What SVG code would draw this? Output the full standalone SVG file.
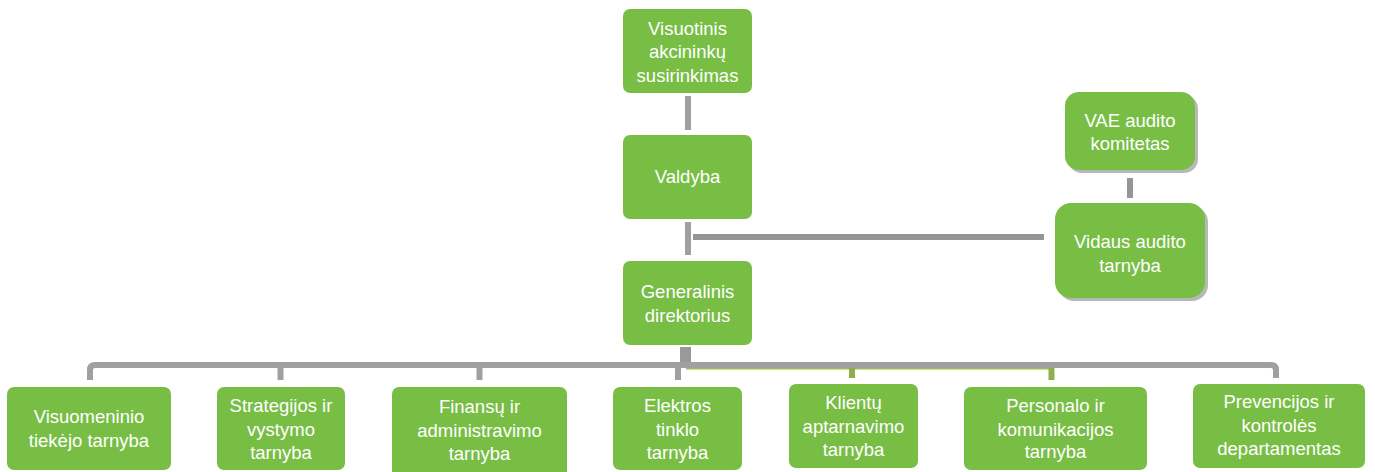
<svg xmlns="http://www.w3.org/2000/svg" width="1375" height="472" viewBox="0 0 1375 472">
<defs>
<style>
.box{fill:#78be45;}
.shadow{fill:#9a9a9a;opacity:0.7;}
.t{font-family:"Liberation Sans",Arial,sans-serif;font-size:18.5px;fill:#ffffff;text-anchor:middle;}
.g{stroke:#a0a0a0;stroke-width:6;fill:none;}
.gd{stroke:#959595;stroke-width:6;fill:none;}
.o{stroke:#8fae4c;stroke-width:6;fill:none;}
</style>
</defs>
<rect width="1375" height="472" fill="#ffffff"/>
<g id="connectors">
<line class="g" x1="688" y1="96" x2="688" y2="130"/>
<line class="g" x1="688" y1="222" x2="688" y2="255"/>
<line class="gd" x1="693" y1="237" x2="1044" y2="237"/>
<line class="gd" x1="1130" y1="178" x2="1130" y2="198"/>
<line stroke="#999999" stroke-width="11" x1="685.5" y1="347" x2="685.5" y2="364"/>
<line stroke="#9bbb59" stroke-width="2" x1="686" y1="368.5" x2="1054" y2="368.5"/>
<path class="g" d="M90 380 V370 Q90 365 95 365 H1271 Q1276 365 1276 370 V378"/>
<line class="g" x1="280.5" y1="365" x2="280.5" y2="380"/>
<line class="g" x1="479.5" y1="365" x2="479.5" y2="380"/>
<line class="g" x1="678" y1="365" x2="678" y2="380"/>
<line class="o" x1="852" y1="368" x2="852" y2="378"/>
<line class="o" x1="1051.5" y1="368" x2="1051.5" y2="380"/>
</g>
<g id="n1">
<rect class="box" x="623" y="9" width="129" height="84" rx="7"/>
<text class="t" x="687.5" y="35">Visuotinis</text>
<text class="t" x="687.5" y="58">akcininkų</text>
<text class="t" x="687.5" y="82">susirinkimas</text>
</g>
<g id="n2">
<rect class="box" x="623" y="135" width="129" height="84" rx="7"/>
<text class="t" x="687.5" y="183">Valdyba</text>
</g>
<g id="n3">
<rect class="box" x="623" y="261" width="129" height="84" rx="7"/>
<text class="t" x="687.5" y="298">Generalinis</text>
<text class="t" x="687.5" y="321.5">direktorius</text>
</g>
<g id="n4">
<rect class="shadow" x="1068" y="95" width="130" height="78" rx="14"/>
<rect class="box" x="1065" y="92" width="130" height="78" rx="14"/>
<text class="t" x="1130" y="127">VAE audito</text>
<text class="t" x="1130" y="150">komitetas</text>
</g>
<g id="n5">
<rect class="shadow" x="1058" y="206" width="150" height="95" rx="16"/>
<rect class="box" x="1055" y="203" width="150" height="95" rx="16"/>
<text class="t" x="1130" y="248">Vidaus audito</text>
<text class="t" x="1130" y="272">tarnyba</text>
</g>
<g id="n6">
<rect class="box" x="7" y="387" width="164" height="83" rx="7"/>
<text class="t" x="89" y="423">Visuomeninio</text>
<text class="t" x="89" y="446.5">tiekėjo tarnyba</text>
</g>
<g id="n7">
<rect class="box" x="217" y="387" width="128" height="83" rx="7"/>
<text class="t" x="281" y="412">Strategijos ir</text>
<text class="t" x="281" y="435.5">vystymo</text>
<text class="t" x="281" y="459">tarnyba</text>
</g>
<g id="n8">
<rect class="box" x="392" y="387" width="175" height="95" rx="7"/>
<text class="t" x="479.5" y="413">Finansų ir</text>
<text class="t" x="479.5" y="436.5">administravimo</text>
<text class="t" x="479.5" y="460">tarnyba</text>
</g>
<g id="n9">
<rect class="box" x="613" y="387" width="129" height="83" rx="7"/>
<text class="t" x="677.5" y="412">Elektros</text>
<text class="t" x="677.5" y="435.5">tinklo</text>
<text class="t" x="677.5" y="459">tarnyba</text>
</g>
<g id="n10">
<rect class="box" x="789" y="384" width="129" height="84" rx="7"/>
<text class="t" x="853.5" y="409">Klientų</text>
<text class="t" x="853.5" y="432.5">aptarnavimo</text>
<text class="t" x="853.5" y="456">tarnyba</text>
</g>
<g id="n11">
<rect class="box" x="964" y="387" width="183" height="83" rx="7"/>
<text class="t" x="1055.5" y="412">Personalo ir</text>
<text class="t" x="1055.5" y="435.5">komunikacijos</text>
<text class="t" x="1055.5" y="458">tarnyba</text>
</g>
<g id="n12">
<rect class="box" x="1193" y="384" width="172" height="84" rx="7"/>
<text class="t" x="1279" y="408">Prevencijos ir</text>
<text class="t" x="1279" y="431.5">kontrolės</text>
<text class="t" x="1279" y="455">departamentas</text>
</g>
</svg>
